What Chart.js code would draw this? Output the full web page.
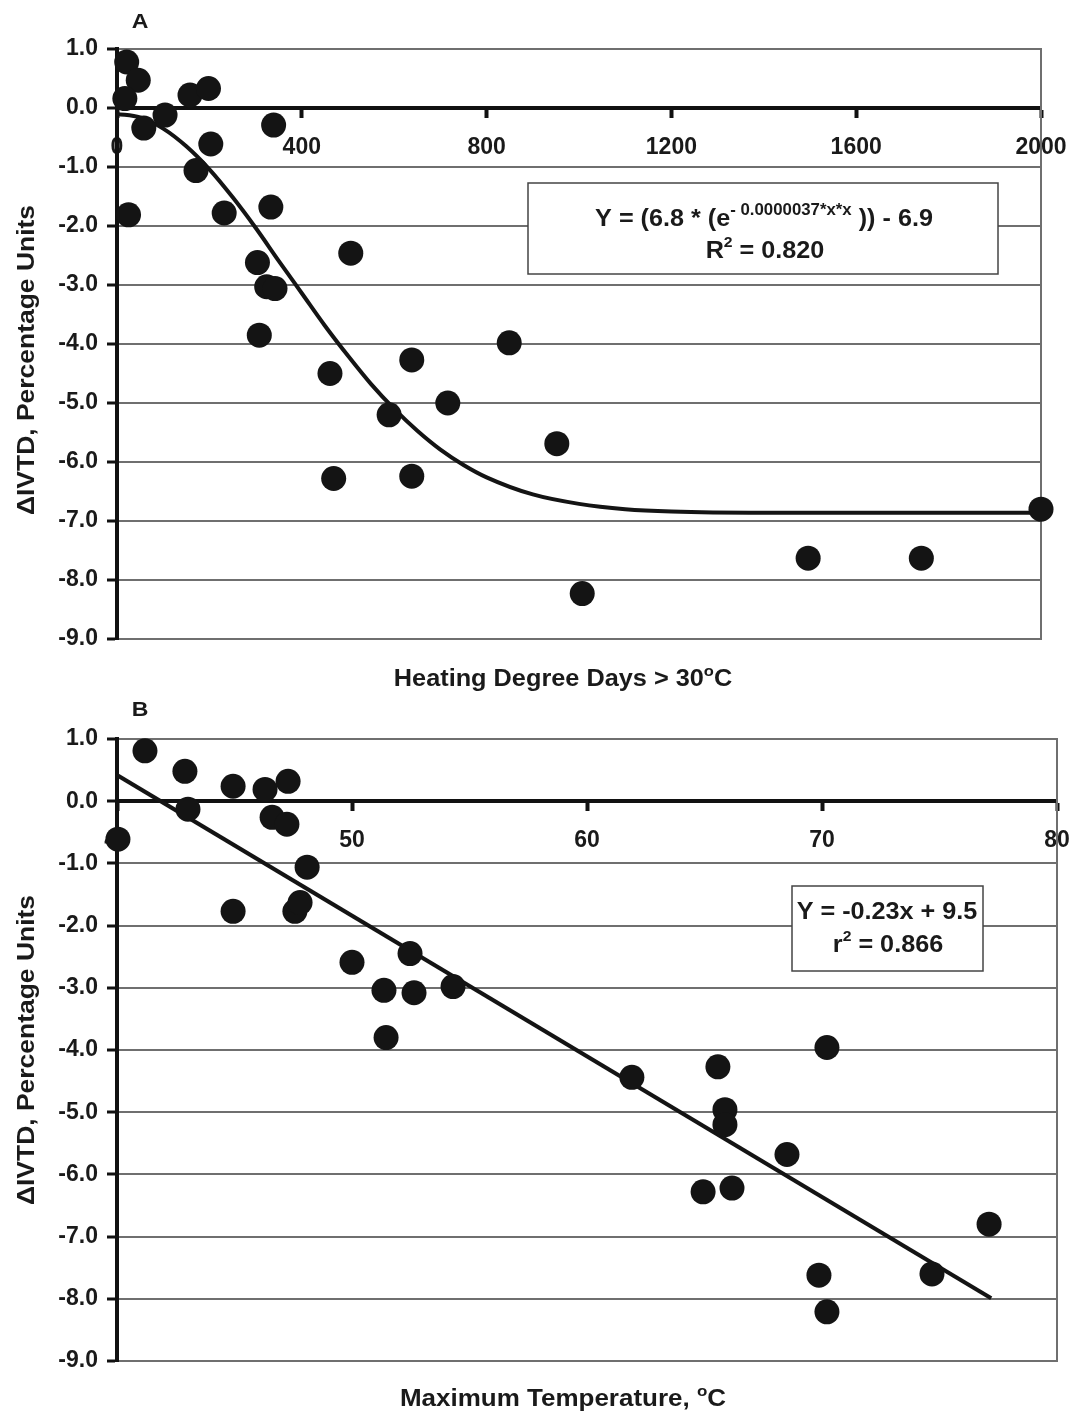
<!DOCTYPE html>
<html>
<head>
<meta charset="utf-8">
<script src="https://cdn.jsdelivr.net/npm/chart.js@4.4.1/dist/chart.umd.min.js"></script>
<style>
  body { margin: 0; background: #fff; }
  #wrap { position: relative; width: 1070px; height: 1414px; }
  canvas { position: absolute; left: 0; }
</style>
</head>
<body>
<div id="wrap">
  <canvas id="chartA" width="1070" height="700" style="top:0px"></canvas>
  <canvas id="chartB" width="1070" height="714" style="top:700px"></canvas>
</div>
<script>
// Panel A: heating degree days > 30 C vs change in IVTD
const hddDays = [21, 46, 17, 58, 104, 158, 198, 203, 171, 25, 232, 339, 333, 304, 324, 342, 308,
  506, 461, 469, 589, 638, 638, 716, 849, 952, 1007, 1496, 1741, 2000];
const hddDelta = [0.78, 0.47, 0.16, -0.34, -0.12, 0.22, 0.33, -0.61, -1.06, -1.81, -1.78, -0.29, -1.68,
  -2.62, -3.03, -3.06, -3.85, -2.46, -4.50, -6.28, -5.20, -4.27, -6.24, -5.00, -3.98, -5.69, -8.23,
  -7.63, -7.63, -6.80];

// fitted curve of panel A
const curveX = [0, 50, 100, 150, 200, 250, 300, 350, 400, 450, 500, 550, 600, 650, 700, 750, 800,
  900, 1000, 1100, 1200, 1400, 1600, 1800, 2000];
const curveY = [-0.1, -0.16, -0.35, -0.65, -1.04, -1.51, -2.03, -2.59, -3.14, -3.69, -4.2, -4.68,
  -5.1, -5.47, -5.79, -6.05, -6.26, -6.55, -6.71, -6.8, -6.84, -6.86, -6.86, -6.86, -6.86];

// Panel B: maximum temperature vs change in IVTD
const maxTemp = [40.04, 41.19, 42.89, 43.02, 44.94, 46.30, 47.28, 46.60, 47.23, 48.09, 44.94, 47.57,
  47.79, 50.0, 52.47, 51.36, 52.64, 54.30, 51.45, 61.91, 65.57, 65.87, 65.87, 68.51, 64.94, 66.17,
  70.21, 77.11, 69.87, 74.68, 70.21];
const tempDelta = [-0.61, 0.81, 0.48, -0.13, 0.24, 0.19, 0.32, -0.26, -0.37, -1.06, -1.77, -1.77,
  -1.63, -2.59, -2.45, -3.04, -3.08, -2.98, -3.80, -4.44, -4.27, -4.96, -5.20, -5.68, -6.28, -6.22,
  -3.96, -6.80, -7.62, -7.60, -8.21];

// regression line of panel B (end points as drawn)
const lineX = [40, 77.2];
const lineY = [0.42, -7.99];

// shared y axis
const yMin = -9;
const yMax = 1;

const FONT = '"Liberation Sans", Arial, sans-serif';
const INK = '#1a1a1a';

const toPoints = (xs, ys) => xs.map((x, i) => ({ x, y: ys[i] }));

// draws a line of text made of normal / superscript parts, centred on (cx, cy)
// the source text is a little wider than plain Arial, hence the stretch
function richText(ctx, parts, cx, cy, size, supSize, stretch) {
  let total = 0;
  const widths = parts.map(([t, sup]) => {
    ctx.font = `bold ${sup ? supSize : size}px ${FONT}`;
    const w = ctx.measureText(t).width;
    total += w;
    return w;
  });
  ctx.save();
  ctx.translate(cx, cy);
  ctx.scale(stretch, 1);
  let x = -total / 2;
  ctx.textAlign = 'left';
  ctx.textBaseline = 'middle';
  parts.forEach(([t, sup], i) => {
    ctx.font = `bold ${sup ? supSize : size}px ${FONT}`;
    ctx.fillText(t, x, sup ? -size * 0.36 : 0);
    x += widths[i];
  });
  ctx.restore();
}

function annotationPlugin(cfg) {
  return {
    id: 'annotations',
    afterDraw: (chart) => {
      const ctx = chart.ctx;
      ctx.save();
      ctx.fillStyle = INK;

      // panel letter
      richText(ctx, [[cfg.letter, false]], 140, cfg.letterY, 21, 12, 1.1);

      // x axis title (sits far below the axis line)
      richText(ctx, cfg.xTitle, 563, cfg.xTitleY, 23, 15, cfg.xStretch);

      // y axis title
      ctx.save();
      ctx.translate(28, cfg.yTitleY);
      ctx.rotate(-Math.PI / 2);
      richText(ctx, [['\u0394IVTD, Percentage Units', false]], 0, 0, 23, 15, 1.15);
      ctx.restore();

      // equation box
      const b = cfg.box;
      ctx.fillStyle = '#fff';
      ctx.fillRect(b.x, b.y, b.w, b.h);
      ctx.strokeStyle = '#444';
      ctx.lineWidth = 1.5;
      ctx.strokeRect(b.x, b.y, b.w, b.h);
      ctx.fillStyle = INK;
      cfg.lines.forEach((ln) => richText(ctx, ln.parts, ln.x, ln.y, 24, ln.sup || 15, 1.05));
      ctx.restore();
    }
  };
}

function makePanel(canvasId, { xMin, xMax, xStep, points, fit, smooth, pad, annot }) {
  const tickFont = { family: FONT, size: 23, weight: 'bold' };
  return new Chart(document.getElementById(canvasId).getContext('2d'), {
    type: 'scatter',
    data: {
      datasets: [
        {
          data: points,
          backgroundColor: '#141414',
          borderWidth: 0,
          pointRadius: 12.5,
          pointHoverRadius: 12.5,
          clip: false
        },
        {
          data: fit,
          showLine: true,
          borderColor: '#141414',
          borderWidth: 4,
          pointRadius: 0,
          cubicInterpolationMode: smooth ? 'monotone' : 'default',
          tension: 0
        }
      ]
    },
    options: {
      responsive: false,
      animation: false,
      devicePixelRatio: 1,
      layout: { padding: pad },
      plugins: {
        legend: { display: false },
        tooltip: { enabled: false }
      },
      scales: {
        x: {
          type: 'linear',
          min: xMin,
          max: xMax,
          position: { y: 0 },
          ticks: {
            stepSize: xStep,
            autoSkip: false,
            maxRotation: 0,
            padding: 18,
            color: INK,
            font: tickFont,
            callback: (v) => String(v)
          },
          grid: { drawOnChartArea: false, drawTicks: true, tickLength: 8, tickWidth: 4, tickColor: '#111' },
          border: { display: true, color: '#111', width: 4 },
          afterFit: (s) => { s.paddingLeft = 0; s.paddingRight = 0; }
        },
        y: {
          type: 'linear',
          min: yMin,
          max: yMax,
          position: 'left',
          ticks: {
            stepSize: 1,
            padding: 9,
            color: INK,
            font: tickFont,
            callback: (v) => v.toFixed(1)
          },
          grid: { color: '#6f6f6f', lineWidth: 2, tickLength: 10, tickWidth: 3, tickColor: '#111' },
          border: { display: true, color: '#111', width: 4 },
          afterFit: (s) => { s.width = 117; s.paddingTop = 0; s.paddingBottom = 0; }
        },
        yRight: {
          type: 'linear',
          min: yMin,
          max: yMax,
          position: 'right',
          ticks: { display: false },
          grid: { display: false },
          border: { display: true, color: '#6f6f6f', width: 2 },
          afterFit: (s) => { s.width = 0; }
        }
      }
    },
    plugins: [annotationPlugin(annot)]
  });
}

makePanel('chartA', {
  xMin: 0, xMax: 2000, xStep: 400,
  points: toPoints(hddDays, hddDelta),
  fit: toPoints(curveX, curveY),
  smooth: true,
  pad: { top: 49, bottom: 61, left: 0, right: 29 },
  annot: {
    letter: 'A', letterY: 22,
    xTitle: [['Heating Degree Days > 30', false], ['o', true], ['C', false]], xTitleY: 680, xStretch: 1.1,
    yTitleY: 360,
    box: { x: 528, y: 183, w: 470, h: 91 },
    lines: [
      { parts: [['Y = (6.8 * (e', false], ['- 0.0000037*x*x', true], [' )) - 6.9', false]], x: 764, y: 219, sup: 16 },
      { parts: [['R', false], ['2', true], [' = 0.820', false]], x: 765, y: 251 }
    ]
  }
});

makePanel('chartB', {
  xMin: 40, xMax: 80, xStep: 10,
  points: toPoints(maxTemp, tempDelta),
  fit: toPoints(lineX, lineY),
  smooth: false,
  pad: { top: 39, bottom: 53, left: 0, right: 13 },
  annot: {
    letter: 'B', letterY: 10,
    xTitle: [['Maximum Temperature, ', false], ['o', true], ['C', false]], xTitleY: 700, xStretch: 1.13,
    yTitleY: 350,
    box: { x: 792, y: 186, w: 191, h: 85 },
    lines: [
      { parts: [['Y = -0.23x + 9.5', false]], x: 887, y: 212 },
      { parts: [['r', false], ['2', true], [' = 0.866', false]], x: 888, y: 245 }
    ]
  }
});
</script>
</body>
</html>
